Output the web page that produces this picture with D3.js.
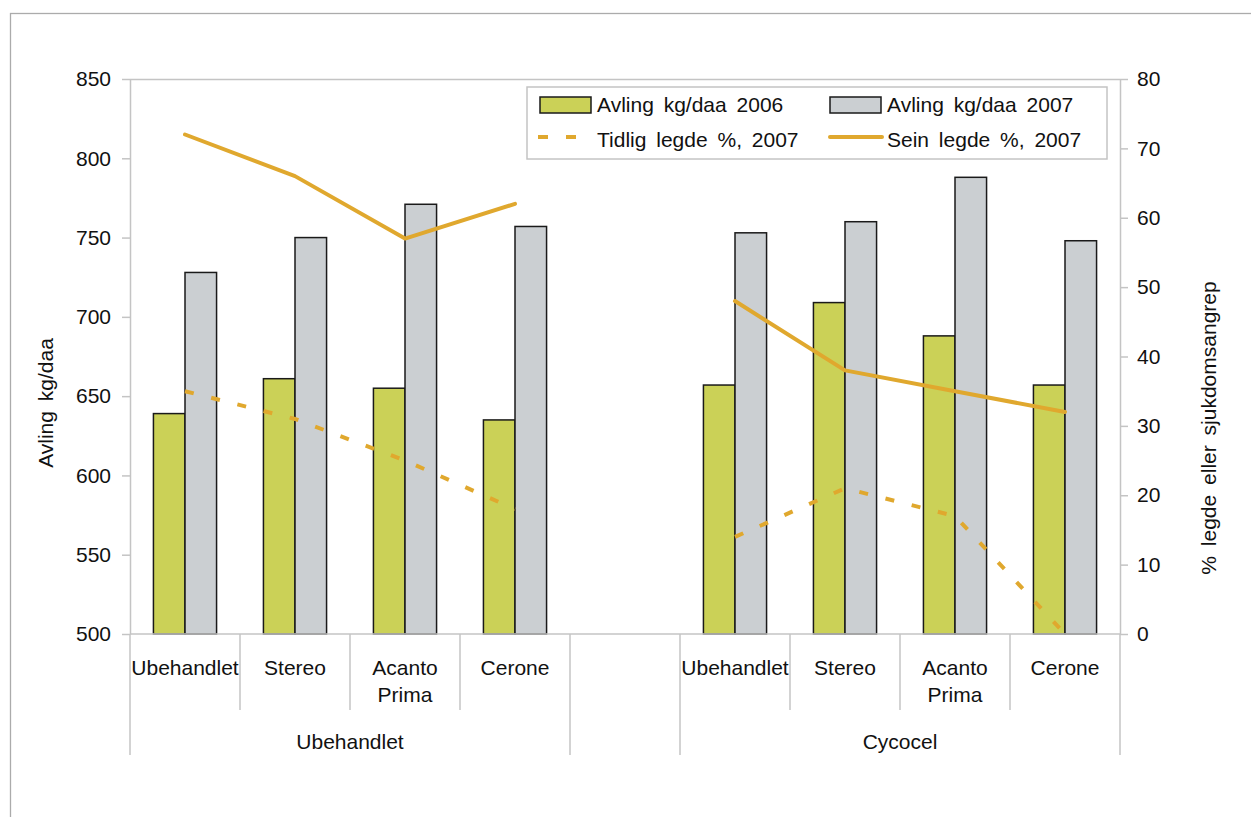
<!DOCTYPE html>
<html>
<head>
<meta charset="utf-8">
<script src="https://cdn.jsdelivr.net/npm/d3@7"></script>
<style>
  html, body { margin: 0; padding: 0; background: #fff; }
  svg { display: block; }
  text { font-family: "Liberation Sans", Arial, sans-serif; fill: #111; }
</style>
</head>
<body>
<svg id="chart" width="1251" height="817"></svg>
<script>
// ---- data ----
const categories = ["Ubehandlet", "Stereo", "Acanto Prima", "Cerone", "", "Ubehandlet", "Stereo", "Acanto Prima", "Cerone"];
const groupNames = ["Ubehandlet", "", "Cycocel"];
const groupSizes = [4, 1, 4];
const avling2006 = [639, 661, 655, 635, null, 657, 709, 688, 657];
const avling2007 = [728, 750, 771, 757, null, 753, 760, 788, 748];
const tidligLegde = [35, 31, 25, 18, null, 14, 21, 17, 0];
const seinLegde = [72, 66, 57, 62, null, 48, 38, 35, 32];
const leftTicks = [500, 550, 600, 650, 700, 750, 800, 850];
const rightTicks = [0, 10, 20, 30, 40, 50, 60, 70, 80];
const legendLabels = ["Avling kg/daa 2006", "Avling kg/daa 2007", "Tidlig legde %, 2007", "Sein legde %, 2007"];
const yLeftTitle = "Avling kg/daa";
const yRightTitle = "% legde eller sjukdomsangrep";

// ---- styles ----
const C2006 = "#cbd157", C2007 = "#cbcfd2", CLINE = "#e0a82e", CAXIS = "#c4c4c4";
const FS = 21;

const svg = d3.select("#chart");

// outer frame
svg.append("rect").attr("x", 10.5).attr("y", 13.5).attr("width", 1300).attr("height", 900)
  .attr("fill", "none").attr("stroke", "#ababab").attr("stroke-width", 1.3);

const L = 130, R = 1120, T = 79, B = 634;
const idx = categories.map((d, i) => i);
const x = d3.scaleBand().domain(idx).range([L, R]).padding(0);
const yL = d3.scaleLinear().domain([500, 850]).range([B, T]);
const yR = d3.scaleLinear().domain([0, 80]).range([B, T]);
const bw = x.bandwidth();
const barW = bw * 0.287;

// plot area top border
svg.append("line").attr("x1", L).attr("x2", R).attr("y1", T + 0.5).attr("y2", T + 0.5)
  .attr("stroke", CAXIS).attr("stroke-width", 1.5);

// bars
const barData = [];
idx.forEach(i => {
  if (avling2006[i] != null) barData.push({ i, v: avling2006[i], s: 0 });
  if (avling2007[i] != null) barData.push({ i, v: avling2007[i], s: 1 });
});
svg.append("g").selectAll("rect").data(barData).join("rect")
  .attr("x", d => x(d.i) + bw / 2 - barW + d.s * barW)
  .attr("y", d => yL(d.v))
  .attr("width", barW)
  .attr("height", d => B - yL(d.v))
  .attr("fill", d => d.s === 0 ? C2006 : C2007)
  .attr("stroke", "#1a1a1a").attr("stroke-width", 1.5);

// axes
const axL = svg.append("g").attr("transform", `translate(${L},0)`)
  .call(d3.axisLeft(yL).tickValues(leftTicks).tickSize(8).tickSizeOuter(0).tickPadding(11).tickFormat(d3.format("d")));
const axR = svg.append("g").attr("transform", `translate(${R},0)`)
  .call(d3.axisRight(yR).tickValues(rightTicks).tickSize(8).tickSizeOuter(0).tickPadding(9).tickFormat(d3.format("d")));
[axL, axR].forEach(a => {
  a.selectAll("path.domain").attr("stroke", CAXIS).attr("stroke-width", 1.5);
  a.selectAll(".tick line").attr("stroke", CAXIS).attr("stroke-width", 1.5);
  a.selectAll(".tick text").attr("font-size", FS).attr("font-family", "Liberation Sans, Arial, sans-serif").attr("fill", "#111");
});
// bottom axis line
svg.append("line").attr("x1", L).attr("x2", R).attr("y1", B).attr("y2", B)
  .attr("stroke", CAXIS).attr("stroke-width", 1.5);

// category separators
const groupStarts = [];
let acc = 0;
groupSizes.forEach(n => { groupStarts.push(acc); acc += n; });
const outerIdx = new Set(groupStarts);
const sepG = svg.append("g");
for (let i = 0; i <= categories.length; i++) {
  const xx = i < categories.length ? x(i) : R;
  const outer = i === categories.length || outerIdx.has(i);
  sepG.append("line").attr("x1", xx).attr("x2", xx).attr("y1", B).attr("y2", outer ? 755 : 710)
    .attr("stroke", CAXIS).attr("stroke-width", 1.5);
}

// category labels
const catG = svg.append("g");
idx.forEach(i => {
  const words = categories[i].split(" ");
  const t = catG.append("text").attr("x", x(i) + bw / 2).attr("y", 675)
    .attr("text-anchor", "middle").attr("font-size", FS);
  words.forEach((w, k) => {
    t.append("tspan").attr("x", x(i) + bw / 2).attr("dy", k === 0 ? 0 : 27).text(w);
  });
});
// group labels
groupNames.forEach((g, gi) => {
  const s = groupStarts[gi], n = groupSizes[gi];
  const cx = (x(s) + (s + n < categories.length ? x(s + n) : R)) / 2;
  svg.append("text").attr("x", cx).attr("y", 749).attr("text-anchor", "middle")
    .attr("font-size", FS).text(g);
});

// lines
const lineGen = d3.line()
  .defined(d => d.v != null)
  .x(d => x(d.i) + bw / 2)
  .y(d => yR(d.v));
svg.append("path").datum(idx.map(i => ({ i, v: tidligLegde[i] })))
  .attr("d", lineGen).attr("fill", "none").attr("stroke", CLINE)
  .attr("stroke-width", 4).attr("stroke-dasharray", "9,18");
svg.append("path").datum(idx.map(i => ({ i, v: seinLegde[i] })))
  .attr("d", lineGen).attr("fill", "none").attr("stroke", CLINE)
  .attr("stroke-width", 4).attr("stroke-linejoin", "round").attr("stroke-linecap", "round");

// axis titles
svg.append("text").attr("transform", `translate(53,403) rotate(-90)`)
  .attr("text-anchor", "middle").attr("font-size", FS).attr("word-spacing", 4).text(yLeftTitle);
svg.append("text").attr("transform", `translate(1216,428) rotate(-90)`)
  .attr("text-anchor", "middle").attr("font-size", FS).attr("word-spacing", 4).text(yRightTitle);

// legend
const lg = svg.append("g");
lg.append("rect").attr("x", 527).attr("y", 87).attr("width", 580).attr("height", 72)
  .attr("fill", "#fff").attr("stroke", CAXIS).attr("stroke-width", 1.5);
const legItems = [
  { type: "bar", fill: C2006, x: 540, y: 105, label: legendLabels[0] },
  { type: "bar", fill: C2007, x: 830, y: 105, label: legendLabels[1] },
  { type: "dash", x: 540, y: 140, label: legendLabels[2] },
  { type: "line", x: 830, y: 140, label: legendLabels[3] }
];
legItems.forEach(it => {
  if (it.type === "bar") {
    lg.append("rect").attr("x", it.x).attr("y", it.y - 8).attr("width", 51).attr("height", 16)
      .attr("fill", it.fill).attr("stroke", "#1a1a1a").attr("stroke-width", 1.5);
  } else if (it.type === "dash") {
    lg.append("line").attr("x1", it.x - 2).attr("x2", it.x + 52).attr("y1", it.y - 3).attr("y2", it.y - 3)
      .attr("stroke", CLINE).attr("stroke-width", 4).attr("stroke-dasharray", "10,18");
  } else {
    lg.append("line").attr("x1", it.x).attr("x2", it.x + 52).attr("y1", it.y - 3).attr("y2", it.y - 3)
      .attr("stroke", CLINE).attr("stroke-width", 4).attr("stroke-linecap", "round");
  }
  lg.append("text").attr("x", it.x + 57).attr("y", it.y + 7).attr("font-size", FS)
    .attr("word-spacing", 4).text(it.label);
});
</script>
</body>
</html>
